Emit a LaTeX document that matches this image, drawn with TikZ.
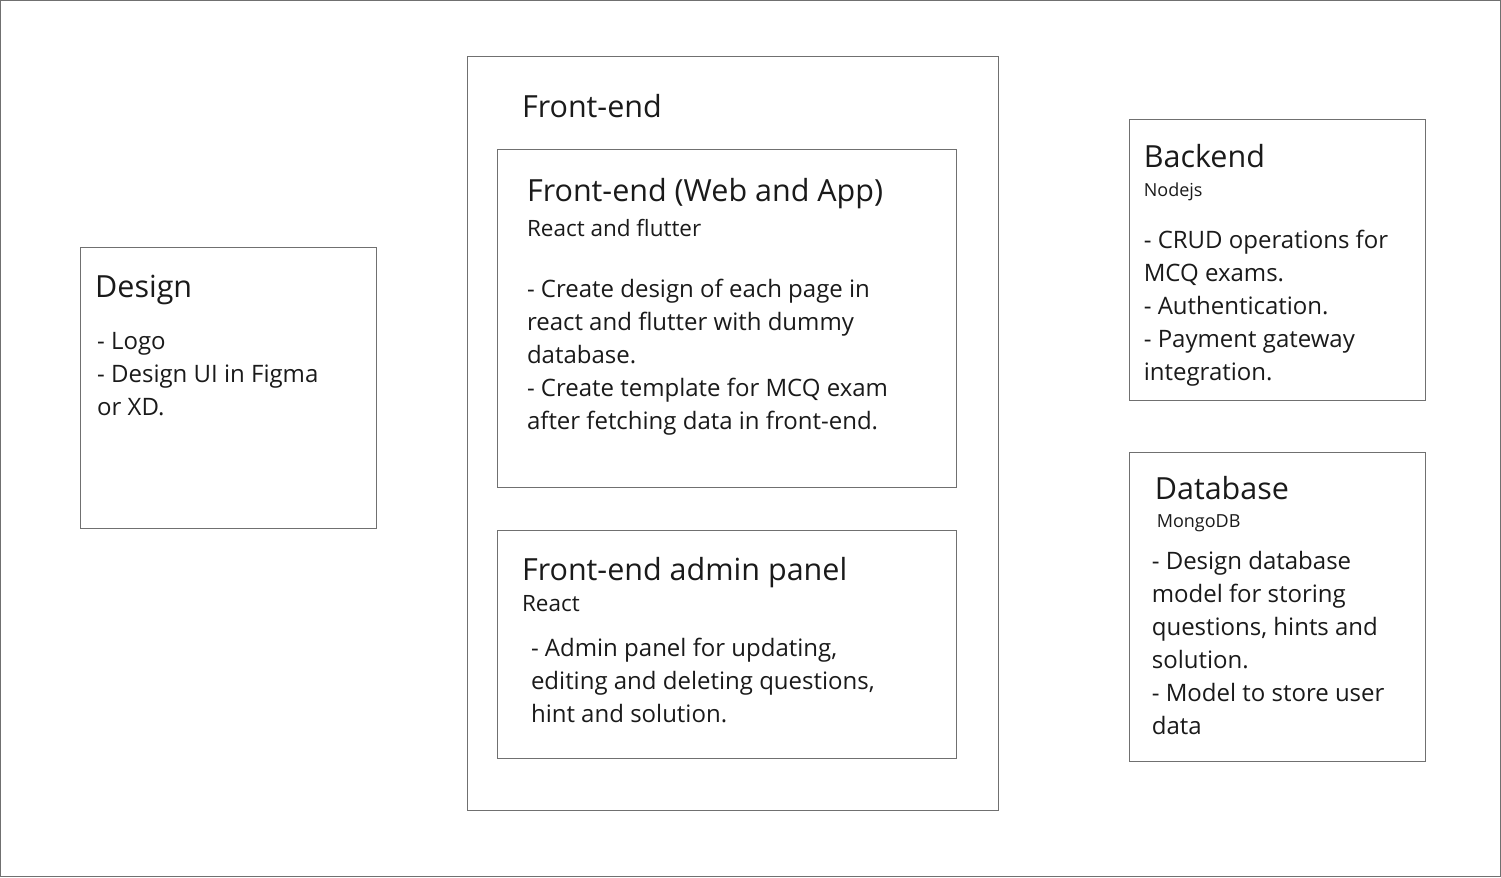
\documentclass[tikz,border=0pt]{standalone}
\usepackage{fontspec}
\setmainfont{Open Sans}
\usepackage{tikz}
\usetikzlibrary{positioning}

\definecolor{boxline}{HTML}{707070}
\definecolor{inktext}{HTML}{1A1A1A}

\tikzset{
  box/.style={draw=boxline, line width=1pt, inner sep=0pt, anchor=north west},
  title/.style={anchor=base west, inner sep=0pt, text=inktext, font=\fontsize{30.5}{36}\selectfont},
  tech/.style={anchor=base west, inner sep=0pt, text=inktext, font=\fontsize{22.5}{26}\selectfont},
  techsmall/.style={anchor=base west, inner sep=0pt, text=inktext, font=\fontsize{18}{22}\selectfont},
  % base of a multi-line node is its last line
  body/.style={anchor=base west, inner sep=0pt, text=inktext, align=left, font=\fontsize{24}{33}\selectfont},
}

\begin{document}
\begin{tikzpicture}[x=1pt, y=-1pt]

%% frame
\node[box, minimum width=1500pt, minimum height=876pt] (frame) at (0.5,0.5) {};
\useasboundingbox (0,0) rectangle (1501,877);

%% design
\node[box, minimum width=296pt, minimum height=281pt] (designbox) at (80,247) {};
\node[title] (designtitle) at (95,298) {Design};
\node[body] (designtext) at (97,416) {- Logo\\- Design UI in Figma\\or XD.};

%% front-end
\node[box, minimum width=531pt, minimum height=754pt] (frontbox) at (467,56) {};
\node[title] (fronttitle) at (522,118) {Front-end};

\node[box, minimum width=459pt, minimum height=338pt] (webbox) at (497,149) {};
\node[title] (webtitle) at (527,202) {Front-end (Web and App)};
\node[tech] (webtech) at (527,237) {React and flutter};
\node[body] (webtext) at (527,430)
{- Create design of each page in\\react and flutter with dummy\\database.\\- Create template for MCQ exam\\after fetching data in front-end.};

\node[box, minimum width=459pt, minimum height=228pt] (adminbox) at (497,530) {};
\node[title] (admintitle) at (522,581) {Front-end admin panel};
\node[tech] (admintech) at (522,612) {React};
\node[body] (admintext) at (531,723)
{- Admin panel for updating,\\editing and deleting questions,\\hint and solution.};

%% backend
\node[box, minimum width=296pt, minimum height=281pt] (backbox) at (1129,119) {};
\node[title] (backtitle) at (1144,168) {Backend};
\node[techsmall] (backtech) at (1144,197) {Nodejs};
\node[body] (backtext) at (1144,381)
{- CRUD operations for\\MCQ exams.\\- Authentication.\\- Payment gateway\\integration.};

%% database
\node[box, minimum width=296pt, minimum height=309pt] (dbbox) at (1129,452) {};
\node[title] (dbtitle) at (1155,500) {Database};
\node[techsmall] (dbtech) at (1157,528) {MongoDB};
\node[body] (dbtext) at (1152,735)
{- Design database\\model for storing\\questions, hints and\\solution.\\- Model to store user\\data};

\end{tikzpicture}
\end{document}
